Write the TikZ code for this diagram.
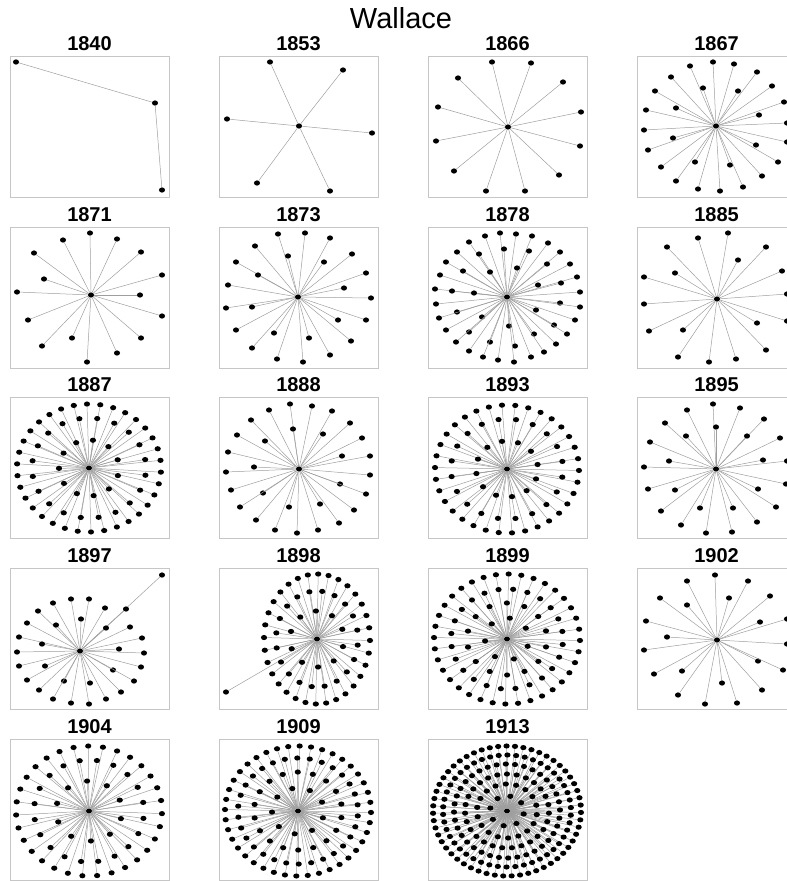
\documentclass[tikz,border=0pt]{standalone}
\usepackage{fontspec}
\setmainfont{Liberation Sans}
\usetikzlibrary{positioning,shapes.geometric}

\begin{document}
\begin{tikzpicture}[x=1pt,y=-1pt,
 panel/.style={rectangle,draw=gray!45,line width=1pt,minimum width=159pt,minimum height=141pt,inner sep=0pt},
 year/.style={font=\fontsize{20}{20}\selectfont\bfseries,inner sep=0pt},
 dot/.style={ellipse,fill=black,inner sep=0pt,minimum width=6.2pt,minimum height=5.2pt},
 link/.style={draw=black!38,line width=0.5pt}]
\useasboundingbox (0,0) rectangle (787,881);
\clip (0,0) rectangle (787,881);
\node[font=\fontsize{29}{29}\selectfont,inner sep=0pt] (title) at (401,18) {Wallace};

% row 1
\begin{scope}[shift={(10,56)}]
\node[panel] (p1840) at (79.5,70.5) {};
\node[year,above=5pt of p1840] (y1840) {1840};
\node[dot] (a1840) at (6,6) {};
\node[dot] (b1840) at (145,47) {};
\node[dot] (c1840) at (152,134) {};
\draw[link] (a1840) -- (b1840) -- (c1840);
\end{scope}

\begin{scope}[shift={(219,56)}]
\node[panel] (p1853) at (79.5,70.5) {};
\node[year,above=5pt of p1853] (y1853) {1853};
\node[dot] (h1853) at (80,70) {};
\foreach \x/\y [count=\i] in {51/6,124/14,8/63,153/77,38/127,111/135}
 {\node[dot] (l1853-\i) at (\x,\y) {}; \draw[link] (h1853) -- (l1853-\i);}
\end{scope}

\begin{scope}[shift={(428,56)}]
\node[panel] (p1866) at (79.5,70.5) {};
\node[year,above=5pt of p1866] (y1866) {1866};
\node[dot] (h1866) at (80,71) {};
\foreach \x/\y [count=\i] in {64/6,103/7,30/22,135/26,10/51,153/56,8/85,152/90,26/115,131/119,58/135,97/135}
 {\node[dot] (l1866-\i) at (\x,\y) {}; \draw[link] (h1866) -- (l1866-\i);}
\end{scope}

\begin{scope}[shift={(637,56)}]
\node[panel] (p1867) at (79.5,70.5) {};
\node[year,above=5pt of p1867] (y1867) {1867};
\node[dot] (h1867) at (79,70) {};
\foreach \x/\y [count=\i] in {76/6,53/10,97/8,34/21,120/16,18/35,66/32,101/35,135/30,9/54,39/52,147/46,
 122/59,7/74,36/82,150/67,150/86,11/94,119/89,24/111,58/106,93/109,141/106,39/125,61/133,83/135,106/131,125/120}
 {\node[dot] (l1867-\i) at (\x,\y) {}; \draw[link] (h1867) -- (l1867-\i);}
\end{scope}

% row 2
\begin{scope}[shift={(10,227)}]
\node[panel] (p1871) at (79.5,70.5) {};
\node[year,above=5pt of p1871] (y1871) {1871};
\node[dot] (h1871) at (81,68) {};
\foreach \x/\y [count=\i] in {80/6,53/13,107/12,24/26,131/25,34/52,152/48,7/65,130/68,18/93,152/89,62/111,
 32/119,131/111,107/126,77/135}
 {\node[dot] (l1871-\i) at (\x,\y) {}; \draw[link] (h1871) -- (l1871-\i);}
\end{scope}

\begin{scope}[shift={(219,227)}]
\node[panel] (p1873) at (79.5,70.5) {};
\node[year,above=5pt of p1873] (y1873) {1873};
\node[dot] (h1873) at (79,70) {};
\foreach \x/\y [count=\i] in {59/7,86/6,111/11,36/19,69/29,133/27,17/35,105/35,39/48,147/46,9/58,125/61,
 152/71,7/81,33/80,119/93,147/93,17/103,55/106,90/111,132/114,33/121,111/128,58/132,84/135}
 {\node[dot] (l1873-\i) at (\x,\y) {}; \draw[link] (h1873) -- (l1873-\i);}
\end{scope}

\begin{scope}[shift={(428,227)}]
\node[panel] (p1878) at (79.5,70.5) {};
\node[year,above=5pt of p1878] (y1878) {1878};
\node[dot] (h1878) at (79,70) {};
\foreach \x/\y [count=\i] in {72/6,88/7,57/9,104/9,41/15,120/16,29/25,76/22,101/24,51/27,132/25,18/35,
 89/41,119/37,142/37,12/48,35/44,62/45,149/50,133/56,110/58,7/62,24/64,46/66,152/65,8/77,132/76,152/80,
 29/85,108/83,11/91,147/93,54/90,18/103,126/98,81/99,41/105,139/107,106/107,28/115,62/115,128/117,
 87/119,41/124,116/125,55/130,103/130,70/133,86/135}
 {\node[dot] (l1878-\i) at (\x,\y) {}; \draw[link] (h1878) -- (l1878-\i);}
\end{scope}

\begin{scope}[shift={(637,227)}]
\node[panel] (p1885) at (79.5,70.5) {};
\node[year,above=5pt of p1885] (y1885) {1885};
\node[dot] (h1885) at (80,72) {};
\foreach \x/\y [count=\i] in {91/6,61/11,30/20,129/20,101/33,145/44,38/46,7/50,150/67,7/77,150/94,120/96,
 12/104,46/103,129/123,41/130,72/135,99/132}
 {\node[dot] (l1885-\i) at (\x,\y) {}; \draw[link] (h1885) -- (l1885-\i);}
\end{scope}

% row 3
\begin{scope}[shift={(10,397)}]
\node[panel] (p1887) at (79.5,70.5) {};
\node[year,above=5pt of p1887] (y1887) {1887};
\node[dot] (h1887) at (79,71) {};
\foreach \nn/\rx/\ry/\ph [count=\j] in {34/72/64/3.7,20/57/50/8.3,11/30/28/15.7}
 \foreach \k in {1,...,\nn}
 {\node[dot] (l1887-\j-\k) at ({79+\rx*cos(\ph+360/\nn*\k)},{71+\ry*sin(\ph+360/\nn*\k)}) {};
  \draw[link] (h1887) -- (l1887-\j-\k);}
\end{scope}

\begin{scope}[shift={(219,397)}]
\node[panel] (p1888) at (79.5,70.5) {};
\node[year,above=5pt of p1888] (y1888) {1888};
\node[dot] (h1888) at (80,72) {};
\foreach \x/\y [count=\i] in {71/7,93/9,50/13,113/14,32/23,131/26,74/32,104/37,18/38,46/44,143/41,9/55,
 123/59,151/59,7/75,35/70,151/78,12/93,121/87,44/96,147/97,21/110,70/110,101/107,135/113,37/123,
 120/126,56/133,78/136,99/133}
 {\node[dot] (l1888-\i) at (\x,\y) {}; \draw[link] (h1888) -- (l1888-\i);}
\end{scope}

\begin{scope}[shift={(428,397)}]
\node[panel] (p1893) at (79.5,70.5) {};
\node[year,above=5pt of p1893] (y1893) {1893};
\node[dot] (h1893) at (79,72) {};
\foreach \nn/\rx/\ry/\ph [count=\j] in {34/72/64/1.3,20/56/50/9.3,12/31/28/20.7}
 \foreach \k in {1,...,\nn}
 {\node[dot] (l1893-\j-\k) at ({79+\rx*cos(\ph+360/\nn*\k)},{72+\ry*sin(\ph+360/\nn*\k)}) {};
  \draw[link] (h1893) -- (l1893-\j-\k);}
\end{scope}

\begin{scope}[shift={(637,397)}]
\node[panel] (p1895) at (79.5,70.5) {};
\node[year,above=5pt of p1895] (y1895) {1895};
\node[dot] (h1895) at (79,72) {};
\foreach \x/\y [count=\i] in {76/7,50/13,103/11,28/26,127/22,79/30,49/39,110/39,13/45,143/41,32/64,126/63,
 7/70,150/64,11/92,38/93,121/92,149/87,24/114,63/111,96/111,139/110,44/128,120/125,69/136,95/135}
 {\node[dot] (l1895-\i) at (\x,\y) {}; \draw[link] (h1895) -- (l1895-\i);}
\end{scope}

% row 4
\begin{scope}[shift={(10,568)}]
\node[panel] (p1897) at (79.5,70.5) {};
\node[year,above=5pt of p1897] (y1897) {1897};
\node[dot] (h1897) at (70,83) {};
\foreach \x/\y [count=\i] in {152/7,61/31,79/31,43/35,95/40,116/41,28/43,71/51,17/55,46/57,96/60,120/59,
 9/69,132/70,32/76,109/81,7/84,134/85,35/98,9/98,131/99,103/102,17/112,54/113,80/115,124/113,29/122,
 111/124,43/131,61/135,79/136,96/131}
 {\node[dot] (l1897-\i) at (\x,\y) {}; \draw[link] (h1897) -- (l1897-\i);}
\end{scope}

\begin{scope}[shift={(219,568)}]
\node[panel] (p1898) at (79.5,70.5) {};
\node[year,above=5pt of p1898] (y1898) {1898};
\node[dot] (h1898) at (98,71) {};
\node[dot] (l1898-far) at (7,124) {};
\draw[link] (h1898) -- (l1898-far);
\foreach \nn/\rx/\ry/\ph [count=\j] in {32/53/65/1.3,20/41/48/7.3,10/27/28/15.7}
 \foreach \k in {1,...,\nn}
 {\node[dot] (l1898-\j-\k) at ({98+\rx*cos(\ph+360/\nn*\k)},{71+\ry*sin(\ph+360/\nn*\k)}) {};
  \draw[link] (h1898) -- (l1898-\j-\k);}
\end{scope}

\begin{scope}[shift={(428,568)}]
\node[panel] (p1899) at (79.5,70.5) {};
\node[year,above=5pt of p1899] (y1899) {1899};
\node[dot] (h1899) at (79,71) {};
\foreach \nn/\rx/\ry/\ph [count=\j] in {36/73/65/1.3,24/56/50/6.3,14/40/36/12.7,7/22/21/20.3}
 \foreach \k in {1,...,\nn}
 {\node[dot] (l1899-\j-\k) at ({79+\rx*cos(\ph+360/\nn*\k)},{71+\ry*sin(\ph+360/\nn*\k)}) {};
  \draw[link] (h1899) -- (l1899-\j-\k);}
\end{scope}

\begin{scope}[shift={(637,568)}]
\node[panel] (p1902) at (79.5,70.5) {};
\node[year,above=5pt of p1902] (y1902) {1902};
\node[dot] (h1902) at (80,72) {};
\foreach \x/\y [count=\i] in {78/7,50/13,111/13,23/30,50/37,92/30,133/28,9/53,123/54,150/51,30/69,7/82,
 150/76,121/93,146/102,17/106,45/103,85/115,125/122,41/127,68/136,100/135}
 {\node[dot] (l1902-\i) at (\x,\y) {}; \draw[link] (h1902) -- (l1902-\i);}
\end{scope}

% row 5
\begin{scope}[shift={(10,739)}]
\node[panel] (p1904) at (79.5,70.5) {};
\node[year,above=5pt of p1904] (y1904) {1904};
\node[dot] (h1904) at (79,72) {};
\foreach \nn/\rx/\ry/\ph [count=\j] in {31/73/65/2.3,20/55/51/8.3,10/33/30/14.7}
 \foreach \k in {1,...,\nn}
 {\node[dot] (l1904-\j-\k) at ({79+\rx*cos(\ph+360/\nn*\k)},{72+\ry*sin(\ph+360/\nn*\k)}) {};
  \draw[link] (h1904) -- (l1904-\j-\k);}
\end{scope}

\begin{scope}[shift={(219,739)}]
\node[panel] (p1909) at (79.5,70.5) {};
\node[year,above=5pt of p1909] (y1909) {1909};
\node[dot] (h1909) at (79,72) {};
\foreach \nn/\rx/\ry/\ph [count=\j] in {40/73/65/1.3,30/60/53/5.3,18/44/39/9.7,9/26/23/17.3}
 \foreach \k in {1,...,\nn}
 {\node[dot] (l1909-\j-\k) at ({79+\rx*cos(\ph+360/\nn*\k)},{72+\ry*sin(\ph+360/\nn*\k)}) {};
  \draw[link] (h1909) -- (l1909-\j-\k);}
\end{scope}

\begin{scope}[shift={(428,739)}]
\node[panel] (p1913) at (79.5,70.5) {};
\node[year,above=5pt of p1913] (y1913) {1913};
\node[dot] (h1913) at (79,72) {};
\foreach \nn/\rx/\ry/\ph [count=\j] in {55/74/65/1.3,46/64/56/4.3,36/53/47/8.7,27/42/37/3.3,18/30/27/7.7,8/17/15/11.3}
 \foreach \k in {1,...,\nn}
 {\node[dot] (l1913-\j-\k) at ({79+\rx*cos(\ph+360/\nn*\k)},{72+\ry*sin(\ph+360/\nn*\k)}) {};
  \draw[link] (h1913) -- (l1913-\j-\k);}
\end{scope}
\end{tikzpicture}
\end{document}
